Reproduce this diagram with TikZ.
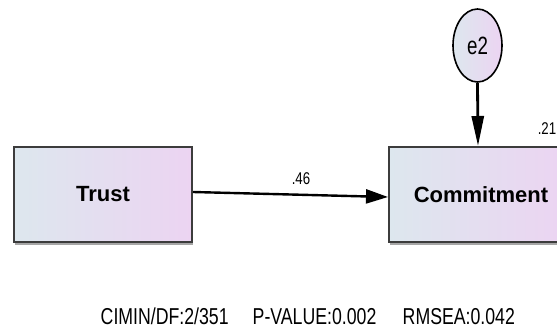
\documentclass[tikz,border=0pt]{standalone}
\usepackage{fontspec}
\setmainfont{Liberation Sans}
\usetikzlibrary{arrows.meta,calc,shapes.geometric,shadows}

\definecolor{boxleft}{RGB}{221,231,238}
\definecolor{boxright}{RGB}{236,212,242}
\definecolor{frame}{RGB}{60,60,60}

\tikzset{
  varbox/.style={rectangle, minimum width=178pt, minimum height=95pt, inner sep=0pt,
    left color=boxleft, right color=boxright, draw=frame, line width=2pt,
    drop shadow={shadow xshift=1pt, shadow yshift=-2.5pt, fill=gray!70, opacity=1},
    font=\fontsize{22}{24}\selectfont\bfseries},
  errvar/.style={ellipse, minimum width=49pt, minimum height=73pt, inner sep=0pt,
    left color=boxleft, right color=boxright, draw=black, line width=1.6pt,
    font=\fontsize{25}{27}\selectfont},
  regarrow/.style={line width=2.4pt, black},
  coef/.style={font=\fontsize{17}{19}\selectfont, xscale=0.78},
  fitline/.style={font=\fontsize{23}{26}\selectfont, xscale=0.77, anchor=base west}
}

\begin{document}
\begin{tikzpicture}[x=1pt,y=-1pt]
  \useasboundingbox (0,0) rectangle (557,329);
  \clip (0,0) rectangle (557,329);

  % observed variables
  \node[varbox] (trust) at (103,194.5) {Trust};
  \node[varbox] (commit) at (478,194.5) {\hspace*{6pt}Commitment};

  % error term
  \node[errvar] (e2) at (477.5,45.5) {\scalebox{0.75}[1]{e2}};

  % regression paths
  \draw[regarrow, -{Triangle[length=22pt,width=14pt]}]
    ($(trust.east)+(0,-2.5)$) -- ($(commit.west)+(0,2.5)$);
  \draw[regarrow, line width=2.8pt, -{Triangle[length=30pt,width=12pt]}]
    (e2.south) -- (commit.north);

  % estimates
  \node[coef] (b46) at (301,178.5) {.46};
  \node[coef, anchor=west] (r21) at (535,129) {.21};

  % fit indices
  \node[fitline] (cmin) at (98,324) {CIMIN/DF:2/351};
  \node[fitline] (pval) at (250,324) {P-VALUE:0.002};
  \node[fitline] (rmsea) at (400,324) {RMSEA:0.042};
\end{tikzpicture}
\end{document}
